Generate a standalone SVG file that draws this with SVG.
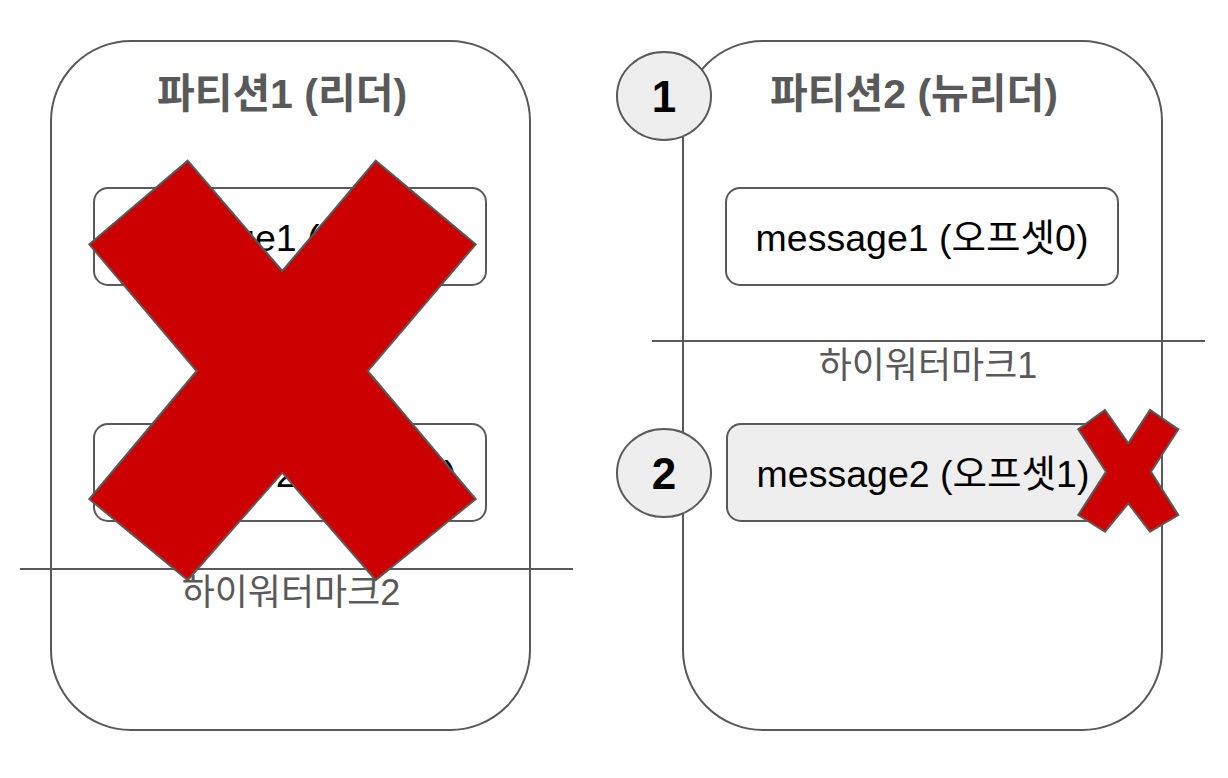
<svg xmlns="http://www.w3.org/2000/svg" width="1228" height="778" viewBox="0 0 1228 778">
<style>
.box{fill:#ffffff;stroke:#595959;stroke-width:2}
.msg{stroke:#595959;stroke-width:2}
.line{stroke:#595959;stroke-width:2;fill:none}
.title{font-family:"Liberation Sans","Noto Sans CJK KR",sans-serif;font-size:41px;font-weight:bold;fill:#595959;text-anchor:middle}
.mtext{font-family:"Liberation Sans","Noto Sans CJK KR",sans-serif;font-size:37.5px;fill:#000000;text-anchor:middle}
.hw{font-family:"Liberation Sans","Noto Sans CJK KR",sans-serif;font-size:36px;fill:#595959;text-anchor:middle}
.num{font-family:"Liberation Sans",sans-serif;font-size:44px;font-weight:bold;fill:#000000;text-anchor:middle}
.circ{fill:#eeeeee;stroke:#595959;stroke-width:2}
.cross{fill:#cc0000;stroke:#595959;stroke-width:2;stroke-linejoin:miter}
</style>
<rect width="1228" height="778" fill="#ffffff"/>
<g id="partition1">
  <rect class="box" x="51" y="41" width="479" height="689" rx="80" ry="80"/>
  <text class="title" x="282" y="108">파티션1 (리더)</text>
</g>
<g id="p1-message1">
  <rect class="msg" fill="#ffffff" x="94" y="188" width="392" height="97" rx="14" ry="14"/>
  <text class="mtext" x="290" y="251">message1 (오프셋0)</text>
</g>
<g id="p1-message2">
  <rect class="msg" fill="#ffffff" x="94" y="424" width="392" height="97" rx="14" ry="14"/>
  <text class="mtext" x="290" y="487">message2 (오프셋1)</text>
</g>
<g id="p1-highwatermark">
  <line class="line" x1="20" y1="569" x2="573" y2="569"/>
  <text class="hw" x="291" y="605">하이워터마크2</text>
</g>
<g id="big-cross">
  <polygon class="cross" points="187.7,160.7 282.3,271 375.7,160.7 475.7,244.3 367.7,371 475.7,499 375.7,580 282.3,472.7 187.7,580 89.3,499 196.7,371 89.3,244.3"/>
</g>
<g id="partition2">
  <rect class="box" x="683" y="41" width="479" height="689" rx="80" ry="80"/>
  <text class="title" x="914" y="108">파티션2 (뉴리더)</text>
</g>
<g id="p2-message1">
  <rect class="msg" fill="#ffffff" x="726" y="188" width="392" height="97" rx="14" ry="14"/>
  <text class="mtext" x="922" y="251">message1 (오프셋0)</text>
</g>
<g id="p2-highwatermark">
  <line class="line" x1="652" y1="341" x2="1205" y2="341"/>
  <text class="hw" x="928" y="378">하이워터마크1</text>
</g>
<g id="p2-message2">
  <rect class="msg" fill="#eeeeee" x="727" y="424" width="392" height="97" rx="14" ry="14"/>
  <text class="mtext" x="923" y="487">message2 (오프셋1)</text>
</g>
<g id="small-cross">
  <polygon class="cross" points="1105,410 1128.3,443.3 1150,410 1178.3,429.3 1151,471.7 1178.3,515 1150,531.7 1128.3,503.3 1105,531.7 1078.3,515 1106,471.7 1078.3,429.3"/>
</g>
<g id="step1">
  <ellipse class="circ" cx="664" cy="96" rx="47" ry="44"/>
  <text class="num" x="664" y="112">1</text>
</g>
<g id="step2">
  <ellipse class="circ" cx="664" cy="473" rx="47" ry="44"/>
  <text class="num" x="664" y="489">2</text>
</g>
</svg>
